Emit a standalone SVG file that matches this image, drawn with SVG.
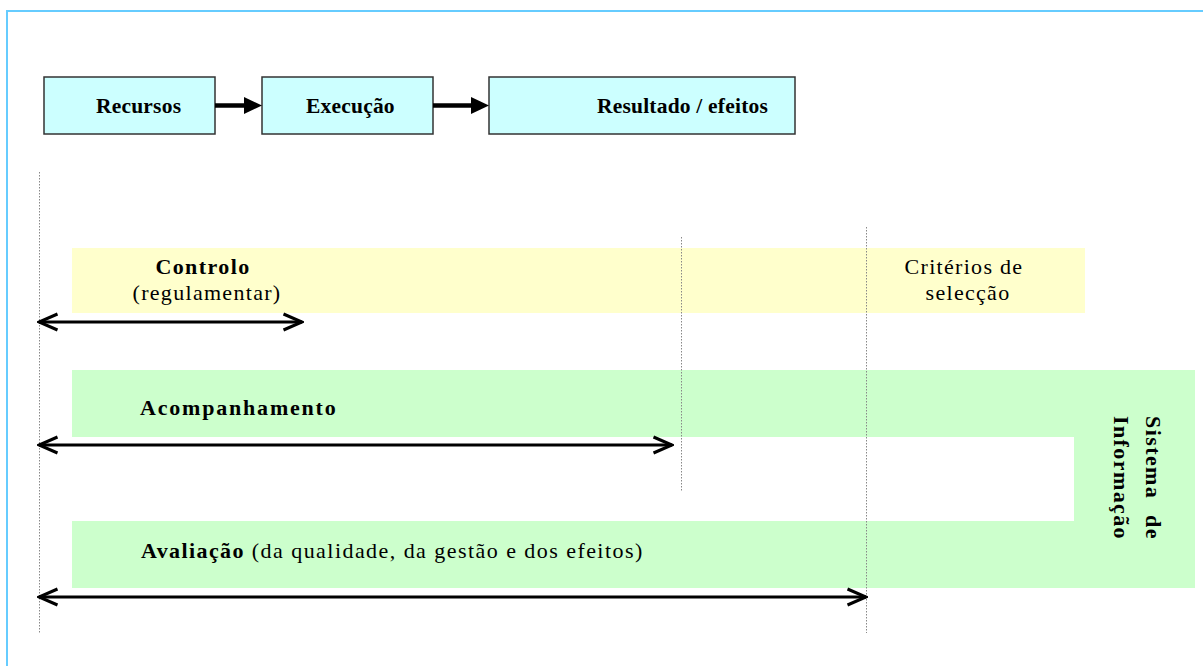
<svg xmlns="http://www.w3.org/2000/svg" width="1203" height="666" viewBox="0 0 1203 666">
<defs>
<style>
.box{fill:#CCFFFF;stroke:#333333;stroke-width:1.5}
.bt{font-family:"Liberation Serif","Times New Roman",serif;font-weight:bold;font-size:21.5px;letter-spacing:0.2px;fill:#000}
.lb{font-family:"Liberation Serif","Times New Roman",serif;font-weight:bold;font-size:22px;letter-spacing:1.4px;fill:#000}
.lr{font-family:"Liberation Serif","Times New Roman",serif;font-weight:normal;font-size:22px;letter-spacing:1.3px;fill:#000}
.guide{stroke:#888888;stroke-width:1;stroke-dasharray:1.5 1.5;fill:none}
.flow{stroke:#000;stroke-width:4.5;fill:none;marker-end:url(#tri)}
.span{stroke:#000;stroke-width:3;fill:none;marker-start:url(#chev);marker-end:url(#chev)}
</style>
<marker id="tri" markerUnits="userSpaceOnUse" viewBox="0 0 18 17" refX="4" refY="8.5" markerWidth="18" markerHeight="17" orient="auto">
<path d="M0,0 L18,8.5 L0,17 Z" fill="#000"/>
</marker>
<marker id="chev" markerUnits="userSpaceOnUse" viewBox="0 0 22 20" refX="20" refY="10" markerWidth="22" markerHeight="20" orient="auto-start-reverse">
<path d="M1.5,2 L20,10 L1.5,18" fill="none" stroke="#000" stroke-width="3" stroke-linejoin="miter"/>
</marker>
</defs>
<rect x="0" y="0" width="1203" height="666" fill="#FFFFFF"/>
<rect x="7" y="11" width="1220" height="680" fill="none" stroke="#66CCFF" stroke-width="2"/>

<g id="band-controlo">
<rect x="72" y="248" width="1013" height="65" fill="#FFFFCC"/>
</g>
<g id="band-sistema">
<path d="M72,370 L1195,370 L1195,588 L72,588 L72,521 L1074,521 L1074,437 L72,437 Z" fill="#CCFFCC"/>
</g>

<g id="guides">
<line class="guide" x1="39.5" y1="172" x2="39.5" y2="633"/>
<line class="guide" x1="681.5" y1="237" x2="681.5" y2="491"/>
<line class="guide" x1="866.5" y1="227" x2="866.5" y2="633"/>
</g>

<g id="recursos">
<rect class="box" x="44" y="77" width="171" height="57"/>
<text class="bt" x="96" y="113">Recursos</text>
</g>
<g id="execucao">
<rect class="box" x="262" y="77" width="171" height="57"/>
<text class="bt" x="306" y="113">Execução</text>
</g>
<g id="resultado">
<rect class="box" x="489" y="77" width="306" height="57"/>
<text class="bt" x="597" y="113">Resultado / efeitos</text>
</g>

<g id="controlo">
<text class="lb" x="203" y="274" text-anchor="middle">Controlo</text>
<text class="lr" x="207" y="300" text-anchor="middle">(regulamentar)</text>
</g>
<g id="criterios">
<text class="lr" x="964" y="274" text-anchor="middle">Critérios de</text>
<text class="lr" x="968" y="300" text-anchor="middle">selecção</text>
</g>
<g id="acompanhamento">
<text class="lb" x="140" y="415" style="letter-spacing:1.8px">Acompanhamento</text>
</g>
<g id="avaliacao">
<text x="141" y="558"><tspan class="lb">Avaliação</tspan><tspan class="lr" style="letter-spacing:1.45px"> (da qualidade, da gestão e dos efeitos)</tspan></text>
</g>
<g id="sistema-informacao">
<text class="lb" transform="translate(1146,478) rotate(90)" text-anchor="middle" word-spacing="9">Sistema de</text>
<text class="lb" transform="translate(1114,478) rotate(90)" text-anchor="middle">Informação</text>
</g>

<g id="connectors">
<line class="flow" x1="215" y1="105.5" x2="248" y2="105.5"/>
<line class="flow" x1="433" y1="105.5" x2="475" y2="105.5"/>
<line class="span" x1="39" y1="322" x2="302" y2="322"/>
<line class="span" x1="39" y1="445" x2="672" y2="445"/>
<line class="span" x1="39" y1="597" x2="866" y2="597"/>
</g>
</svg>
